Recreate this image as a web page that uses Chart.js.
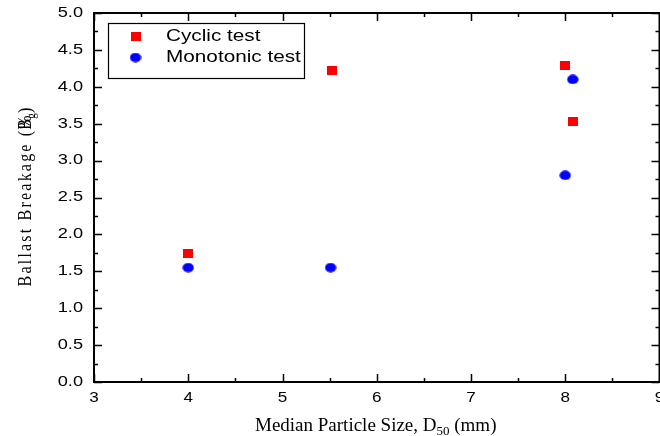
<!DOCTYPE html>
<html>
<head>
<meta charset="utf-8">
<script src="https://cdn.jsdelivr.net/npm/chart.js@4/dist/chart.umd.min.js"></script>
<style>
  html, body { margin: 0; padding: 0; background: #fff; overflow: hidden; }
  #wrap { width: 660px; height: 436px; }
</style>
</head>
<body>
<div id="wrap"><canvas id="c" width="660" height="436"></canvas></div>
<script>
// Median particle size D50 (mm) and ballast breakage Bg (%)
const cyclicD50 = [4.0, 5.52, 8.0, 8.08];
const cyclicBg = [1.74, 4.22, 4.29, 3.53];
const monoD50 = [4.0, 5.51, 8.0, 8.08];
const monoBg = [1.55, 1.55, 2.80, 4.10];
const seriesNames = ['Cyclic test', 'Monotonic test'];
const xTicks = [3, 4, 5, 6, 7, 8, 9];
const yTicks = [0, 0.5, 1, 1.5, 2, 2.5, 3, 3.5, 4, 4.5, 5];

const toPts = (xs, ys) => xs.map((x, i) => ({ x: x, y: ys[i] }));

// Marker sprites: a slightly flattened square and a slightly wide dot
function makeSprite(w, h, color, shape) {
  const c = document.createElement('canvas');
  c.width = w; c.height = h;
  const g = c.getContext('2d');
  g.fillStyle = color;
  if (shape === 'rect') {
    g.fillRect(0, 0, w, h);
  } else {
    g.beginPath();
    g.ellipse(w / 2, h / 2, w / 2 - 0.3, h / 2 - 0.3, 0, 0, Math.PI * 2);
    g.fill();
  }
  return c;
}
const squareMark = makeSprite(10, 9, '#ff0000', 'rect');
const dotMark = makeSprite(12, 10, '#0000ff', 'circle');

const sans = '"Liberation Sans", Arial, sans-serif';
const serif = '"Liberation Serif", "Times New Roman", serif';
const STRETCH = 1.22;

// draw text widened horizontally
function wideText(ctx, text, x, y, font, align, baseline, k) {
  ctx.save();
  ctx.font = font;
  ctx.textBaseline = baseline;
  ctx.textAlign = 'left';
  const w = ctx.measureText(text).width * k;
  let x0 = x;
  if (align === 'center') x0 = x - w / 2;
  else if (align === 'right') x0 = x - w;
  ctx.translate(x0, y);
  ctx.scale(k, 1);
  ctx.fillText(text, 0, 0);
  ctx.restore();
}

// Frame, inward ticks, tick labels, axis titles and the boxed legend
const decor = {
  id: 'decor',
  beforeDatasetsDraw(chart) {
    const ctx = chart.ctx;
    const a = chart.chartArea;
    const xs = chart.scales.x, ys = chart.scales.y;
    ctx.save();
    ctx.strokeStyle = '#000';
    ctx.fillStyle = '#000';

    // ticks (major at labelled values, minor halfway)
    ctx.lineWidth = 1.5;
    for (let v = xTicks[0]; v <= xTicks[xTicks.length - 1] + 1e-9; v += 0.5) {
      const px = Math.round(xs.getPixelForValue(v)) + 0.5;
      const len = Math.abs(v - Math.round(v)) < 1e-9 ? 8 : 4;
      ctx.beginPath();
      ctx.moveTo(px, a.bottom); ctx.lineTo(px, a.bottom - len);
      ctx.moveTo(px, a.top); ctx.lineTo(px, a.top + len);
      ctx.stroke();
    }
    for (let v = yTicks[0]; v <= yTicks[yTicks.length - 1] + 1e-9; v += 0.25) {
      const py = Math.round(ys.getPixelForValue(v)) + 0.5;
      const len = Math.abs(v * 2 - Math.round(v * 2)) < 1e-9 ? 8 : 4;
      ctx.beginPath();
      ctx.moveTo(a.left, py); ctx.lineTo(a.left + len, py);
      ctx.moveTo(a.right, py); ctx.lineTo(a.right - len, py);
      ctx.stroke();
    }
    // frame
    ctx.lineWidth = 2;
    ctx.strokeRect(a.left, a.top, a.right - a.left, a.bottom - a.top);

    // tick labels
    xTicks.forEach(v => {
      wideText(ctx, String(v), xs.getPixelForValue(v), 402, '14px ' + sans, 'center', 'alphabetic', STRETCH);
    });
    yTicks.forEach(v => {
      wideText(ctx, v.toFixed(1), 83, ys.getPixelForValue(v), '14px ' + sans, 'right', 'middle', 1.3);
    });

    // x axis title with subscript
    ctx.textBaseline = 'alphabetic';
    ctx.textAlign = 'left';
    const mainFont = '19px ' + serif, subFont = '13px ' + serif;
    const parts = [['Median Particle Size, D', mainFont, 0], ['50', subFont, 4], [' (mm)', mainFont, 0]];
    let tx = 255;
    parts.forEach(p => {
      ctx.font = p[1];
      ctx.fillText(p[0], tx, 431 + p[2]);
      tx += ctx.measureText(p[0]).width;
    });

    // y axis title (rotated, letter-spaced)
    ctx.save();
    ctx.translate(31, 196);
    ctx.rotate(-Math.PI / 2);
    ctx.scale(1, 1.12);
    ctx.font = '16px ' + serif;
    ctx.letterSpacing = '2.2px';
    const yt = 'Ballast Breakage (%)';
    const w = ctx.measureText(yt).width;
    const sx = -w / 2;
    ctx.fillText(yt, sx, 0);
    const pre = ctx.measureText('Ballast Breakage (').width;
    ctx.fillText('B', sx + pre - 1, 0);
    ctx.font = '11px ' + serif;
    ctx.letterSpacing = '0px';
    ctx.fillText('g', sx + pre + 10, 4);
    ctx.restore();

    ctx.restore();
  },
  afterDraw(chart) {
    const ctx = chart.ctx;
    ctx.save();
    const lx = 108, ly = 23, lw = 196, lh = 55;
    ctx.lineWidth = 1.2;
    ctx.strokeStyle = '#000';
    ctx.fillStyle = '#fff';
    ctx.fillRect(lx, ly, lw, lh);
    ctx.strokeRect(lx + 0.5, ly + 0.5, lw, lh);
    chart.data.datasets.forEach((ds, i) => {
      const cy = ly + 13 + i * 21.5;
      const img = ds.pointStyle;
      ctx.drawImage(img, 135.5 - img.width / 2, cy - img.height / 2);
      ctx.fillStyle = '#000';
      wideText(ctx, ds.label, 166, cy, '17px ' + sans, 'left', 'middle', STRETCH);
    });
    ctx.restore();
  }
};

new Chart(document.getElementById('c'), {
  type: 'scatter',
  data: {
    datasets: [
      {
        label: seriesNames[0],
        data: toPts(cyclicD50, cyclicBg),
        pointStyle: squareMark,
        pointRadius: 0.5,
        pointHoverRadius: 0.5,
        pointBorderWidth: 0,
        borderWidth: 0,
        backgroundColor: '#ff0000',
        borderColor: '#ff0000'
      },
      {
        label: seriesNames[1],
        data: toPts(monoD50, monoBg),
        pointStyle: dotMark,
        pointRadius: 0.5,
        pointHoverRadius: 0.5,
        pointBorderWidth: 0,
        borderWidth: 0,
        backgroundColor: '#0000ff',
        borderColor: '#0000ff'
      }
    ]
  },
  options: {
    responsive: false,
    animation: false,
    events: [],
    layout: { padding: { top: 13, right: -1, left: 94, bottom: 54 } },
    plugins: { legend: { display: false }, tooltip: { enabled: false } },
    scales: {
      x: { type: 'linear', display: false, min: xTicks[0], max: xTicks[xTicks.length - 1] },
      y: { type: 'linear', display: false, min: yTicks[0], max: yTicks[yTicks.length - 1] }
    }
  },
  plugins: [decor]
});
</script>
</body>
</html>
